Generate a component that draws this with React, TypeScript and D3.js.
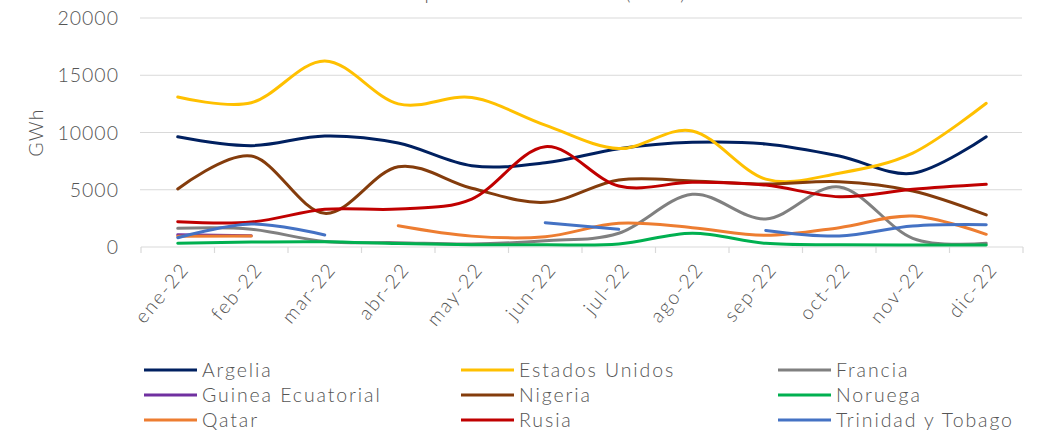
import React from "react";
import * as d3 from "d3";

const months = ["ene-22", "feb-22", "mar-22", "abr-22", "may-22", "jun-22", "jul-22", "ago-22", "sep-22", "oct-22", "nov-22", "dic-22"];
const yTicks = [0, 5000, 10000, 15000, 20000];

const argelia = [9630, 8850, 9700, 9080, 7100, 7360, 8590, 9140, 9000, 7950, 6440, 9630];
const estadosUnidos = [13100, 12600, 16250, 12500, 13050, 10650, 8600, 10130, 5930, 6450, 8200, 12550];
const francia = [1630, 1550, 480, 380, 260, 550, 1200, 4600, 2450, 5250, 760, 320];
const guineaEcuatorial = [1060, 980, null, null, null, null, null, null, null, null, null, null];
const nigeria = [5070, 7950, 2940, 7010, 5130, 3900, 5850, 5770, 5500, 5700, 4890, 2800];
const noruega = [320, 440, 460, 300, 200, 200, 260, 1200, 320, 200, 170, 170];
const qatar = [930, 950, null, 1860, 950, 900, 2070, 1690, 1020, 1690, 2710, 1110];
const rusia = [2210, 2180, 3290, 3320, 4190, 8760, 5330, 5650, 5410, 4390, 5040, 5475];
const trinidadYTobago = [810, 2010, 1050, null, null, 2120, 1540, null, 1450, 960, 1830, 1950];

const series = [
  { name: "Argelia", values: argelia, color: "#002060" },
  { name: "Estados Unidos", values: estadosUnidos, color: "#FFC000" },
  { name: "Francia", values: francia, color: "#808080" },
  { name: "Guinea Ecuatorial", values: guineaEcuatorial, color: "#7030A0" },
  { name: "Nigeria", values: nigeria, color: "#843C0C" },
  { name: "Noruega", values: noruega, color: "#00B050" },
  { name: "Qatar", values: qatar, color: "#ED7D31" },
  { name: "Rusia", values: rusia, color: "#C00000" },
  { name: "Trinidad y Tobago", values: trinidadYTobago, color: "#4472C4" },
];

const W = 1040;
const H = 431;
const FONT = "Lato, 'Noto Sans', sans-serif";
const TEXT = "#555555";

export default function App() {
  const x = d3.scaleBand<string>().domain(months).range([141, 1023]);
  const y = d3.scaleLinear().domain([0, 20000]).range([247, 18]);
  const cx = (m: string) => (x(m) as number) + x.bandwidth() / 2;

  const line = d3
    .line<number | null>()
    .defined((d) => d !== null)
    .x((_, i) => cx(months[i]))
    .y((d) => y(d as number))
    .curve(d3.curveCardinal.tension(0));

  const legendCols = [144, 461, 778];
  const legendRows = [370, 395, 420];

  return (
    <svg width={W} height={H} style={{ position: "absolute", left: 0, top: 0, background: "#fff" }} fontFamily={FONT} fontWeight={300}>
      <text x={401} y={0} fontSize={20} fill={TEXT} letterSpacing={1.2}>Importaciones de GNL (GWh)</text>
      {yTicks.map((t) => (
        <g key={t}>
          {t > 0 && <line x1={140} x2={1022} y1={y(t)} y2={y(t)} stroke="#d9d9d9" strokeWidth={1.2} />}
          <text x={119} y={y(t)} dy="0.36em" textAnchor="end" fontSize={19.5} fill={TEXT} letterSpacing={1}>{t}</text>
        </g>
      ))}
      <line x1={141} x2={1023} y1={y(0)} y2={y(0)} stroke="#d9d9d9" strokeWidth={1.2} />
      {months.map((m) => (
        <line key={"tk" + m} x1={x(m) as number} x2={x(m) as number} y1={y(0)} y2={y(0) + 6} stroke="#d9d9d9" strokeWidth={1.2} />
      ))}
      <line x1={1023} x2={1023} y1={y(0)} y2={y(0) + 6} stroke="#d9d9d9" strokeWidth={1.2} />
      <text transform={`translate(43,${(y(0) + y(20000)) / 2}) rotate(-90)`} textAnchor="middle" fontSize={19.5} fill={TEXT} letterSpacing={1.2}>GWh</text>
      {months.map((m) => (
        <text key={"lb" + m} transform={`translate(${cx(m) + 2},${261}) rotate(-50)`} textAnchor="end" dy="0.7em" fontSize={19.5} fill={TEXT} letterSpacing={1.8}>{m}</text>
      ))}
      {series.map((s) => (
        <path key={s.name} d={line(s.values) || ""} fill="none" stroke={s.color} strokeWidth={3} strokeLinecap="round" />
      ))}
      {series.map((s, i) => {
        const col = legendCols[i % 3];
        const row = legendRows[Math.floor(i / 3)];
        return (
          <g key={"lg" + s.name}>
            <line x1={col} x2={col + 53} y1={row} y2={row} stroke={s.color} strokeWidth={3} />
            <text x={col + 58} y={row} dy="0.36em" fontSize={19.5} fill={TEXT} letterSpacing={1.9}>{s.name}</text>
          </g>
        );
      })}
    </svg>
  );
}
